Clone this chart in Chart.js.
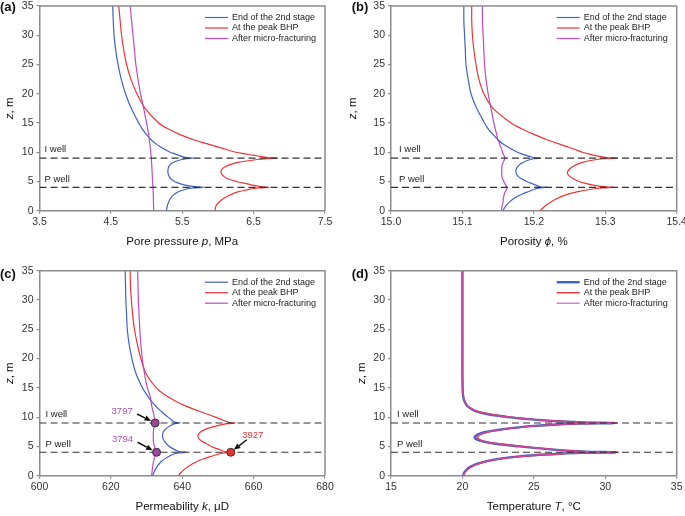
<!DOCTYPE html>
<html><head><meta charset="utf-8">
<script src="https://cdn.jsdelivr.net/npm/chart.js@4.4.1/dist/chart.umd.min.js"></script>
<style>
html,body{margin:0;padding:0;background:#fff;}
#wrap{position:relative;width:685px;height:516px;overflow:hidden;background:#fff;}
canvas{position:absolute;}
</style></head><body>
<div id="wrap">
<canvas id="ca" width="340" height="258" style="left:0;top:0"></canvas>
<canvas id="cb" width="345" height="258" style="left:340px;top:0"></canvas>
<canvas id="cc" width="340" height="258" style="left:0;top:258px"></canvas>
<canvas id="cd" width="345" height="258" style="left:340px;top:258px"></canvas>
</div>
<script>
// ---------------- DATA ----------------
const zGrid = [0,0.5,1,1.5,2,2.5,3,3.25,3.5,3.75,3.9,4,4.1,4.25,4.5,4.75,5,5.5,6,6.5,7,7.5,8,8.25,8.5,8.75,8.9,9,9.1,9.25,9.5,9.75,10,10.5,11,11.5,12,13,14,15,17.5,20,22.5,25,27.5,30,32.5,35];
const seriesNames = ['End of the 2nd stage','At the peak BHP','After micro-fracturing'];

const pressureBlue = [5.28,5.285,5.295,5.31,5.33,5.36,5.41,5.445,5.50,5.58,5.66,5.795,5.68,5.60,5.50,5.44,5.39,5.335,5.31,5.30,5.30,5.31,5.34,5.37,5.42,5.49,5.56,5.655,5.56,5.50,5.445,5.39,5.33,5.25,5.18,5.125,5.075,5.00,4.94,4.89,4.785,4.705,4.645,4.60,4.567,4.545,4.533,4.525];
const pressureRed = [5.96,5.965,5.98,6.02,6.07,6.14,6.23,6.29,6.38,6.48,6.57,6.71,6.62,6.54,6.44,6.35,6.26,6.13,6.07,6.045,6.05,6.10,6.20,6.28,6.40,6.55,6.68,6.83,6.70,6.61,6.49,6.36,6.25,6.11,5.97,5.83,5.69,5.47,5.30,5.17,4.98,4.865,4.78,4.72,4.68,4.65,4.63,4.61];
const pressurePurple = [5.100,5.099,5.098,5.097,5.096,5.095,5.093,5.092,5.091,5.090,5.090,5.089,5.089,5.088,5.087,5.086,5.085,5.082,5.080,5.078,5.076,5.074,5.071,5.070,5.069,5.068,5.067,5.066,5.066,5.065,5.063,5.061,5.060,5.055,5.050,5.045,5.040,5.030,5.015,5.000,4.960,4.915,4.880,4.850,4.830,4.810,4.790,4.770];

const porosityBlue = [15.157,15.159,15.162,15.166,15.171,15.178,15.187,15.192,15.197,15.203,15.208,15.218,15.209,15.205,15.200,15.195,15.190,15.182,15.177,15.175,15.175,15.177,15.181,15.185,15.189,15.195,15.200,15.209,15.200,15.195,15.188,15.182,15.177,15.169,15.162,15.156,15.151,15.143,15.136,15.131,15.120,15.112,15.108,15.105,15.104,15.103,15.102,15.102];
const porosityRed = [15.209,15.213,15.218,15.224,15.231,15.240,15.253,15.262,15.272,15.285,15.296,15.312,15.298,15.289,15.278,15.270,15.263,15.255,15.249,15.247,15.249,15.254,15.262,15.268,15.276,15.288,15.299,15.316,15.302,15.293,15.283,15.275,15.268,15.257,15.245,15.233,15.221,15.201,15.183,15.168,15.143,15.130,15.123,15.119,15.116,15.114,15.113,15.113];
const porosityPurple = [15.155,15.155,15.156,15.157,15.157,15.158,15.159,15.160,15.161,15.162,15.162,15.163,15.162,15.161,15.160,15.159,15.158,15.156,15.155,15.155,15.155,15.155,15.156,15.157,15.158,15.159,15.159,15.160,15.159,15.159,15.158,15.157,15.156,15.155,15.153,15.152,15.150,15.148,15.146,15.144,15.140,15.136,15.133,15.131,15.130,15.129,15.128,15.128];

const permBlue = [631.7,632.0,632.4,632.9,633.5,634.3,635.4,636.1,636.9,637.9,638.9,641.0,639.3,638.6,637.7,637.0,636.4,635.5,634.9,634.5,634.5,634.7,635.4,635.9,636.5,637.3,638.0,639.4,638.2,637.5,637.0,636.6,636.0,635.0,634.1,633.2,632.4,631.0,629.85,628.85,627.0,625.9,625.1,624.6,624.4,624.2,624.1,624.0];
const permRed = [638.9,639.6,640.4,641.5,642.8,644.4,646.6,647.8,649.0,650.5,651.8,653.6,652.1,651.3,650.2,649.1,648.2,646.7,645.2,644.5,644.5,645.2,646.8,648.1,649.6,651.4,652.8,654.8,653.2,652.4,651.4,650.3,649.3,647.1,644.8,642.6,640.6,637.3,634.7,632.7,629.8,628.4,627.4,626.6,626.1,625.75,625.5,625.4];
const permPurple = [631.4,631.5,631.6,631.7,631.8,632.0,632.2,632.3,632.5,632.6,632.7,632.8,632.7,632.6,632.4,632.3,632.2,632.0,631.9,631.9,631.9,631.9,632.0,632.1,632.2,632.3,632.4,632.4,632.4,632.3,632.3,632.2,632.1,632.0,631.8,631.6,631.4,631.2,630.8,630.2,629.4,628.8,628.4,628.1,627.9,627.7,627.6,627.5];

const tempBlue = [20.05,20.12,20.28,20.55,21.0,21.7,22.9,23.8,25.0,26.8,28.3,30.7,28.6,27.3,26.2,25.0,24.0,22.2,21.2,20.85,21.05,21.7,23.0,23.9,25.0,26.6,28.0,30.6,28.4,27.0,25.4,24.2,23.2,21.8,20.95,20.55,20.3,20.1,20.03,20.01,20.0,20.0,20.0,20.0,20.0,20.0,20.0,20.0];
const tempRed = [20.08,20.15,20.33,20.62,21.1,21.85,23.05,24.0,25.2,27.0,28.5,30.9,28.8,27.5,26.4,25.2,24.2,22.4,21.4,21.05,21.25,21.9,23.2,24.1,25.2,26.8,28.2,30.8,28.6,27.2,25.6,24.4,23.4,21.95,21.05,20.6,20.33,20.12,20.04,20.02,20.0,20.0,20.0,20.0,20.0,20.0,20.0,20.0];
const tempPurple = [20.06,20.13,20.3,20.58,21.05,21.75,22.95,23.9,25.1,26.9,28.4,30.8,28.7,27.4,26.3,25.1,24.1,22.3,21.3,20.95,21.15,21.8,23.1,24.0,25.1,26.7,28.1,30.7,28.5,27.1,25.5,24.3,23.3,21.85,21.0,20.58,20.32,20.11,20.03,20.01,20.0,20.0,20.0,20.0,20.0,20.0,20.0,20.0];

const pTicks = [3.5,4.5,5.5,6.5,7.5];
const phiTicks = [15.0,15.1,15.2,15.3,15.4];
const kTicks = [600,620,640,660,680];
const tTicks = [15,20,25,30,35];
const zTicks = [0,5,10,15,20,25,30,35];

const wellDepths = [9,4];
const wellNames = ['I well','P well'];

const kMarkPurpleValues = [632.8,632.4];
const kMarkPurpleDepths = [4,9];
const kMarkPurpleLabels = ['3794','3797'];
const kMarkRedValues = [653.6];
const kMarkRedDepths = [4];
const kMarkRedLabels = ['3927'];

// ---------------- STYLE ----------------
const FONT = '"Liberation Sans", Arial, Helvetica, sans-serif';
const COLORS = ['#3e63c3','#ee3434','#bf4bbf'];
const AXIS = '#8c8c8c';

function pts(xs){ return zGrid.map((z,i)=>({x:xs[i], y:z})); }
function mpts(vals, depths){ return depths.map((d,i)=>({x:vals[i], y:d})).sort((a,b)=>a.y-b.y); }

function drawSegs(ctx, segs, size, cx, cy){
  let total = 0;
  segs.forEach(s=>{ ctx.font = (s[1]?'italic ':'') + size + 'px ' + FONT; s.w = ctx.measureText(s[0]).width; total += s.w; });
  let x = cx - total/2;
  ctx.textAlign = 'left'; ctx.textBaseline = 'middle';
  segs.forEach(s=>{ ctx.font = (s[1]?'italic ':'') + size + 'px ' + FONT; ctx.fillText(s[0], x, cy); x += s.w; });
}

function drawArrow(ctx, x1, y1, x2, y2){
  const ang = Math.atan2(y2-y1, x2-x1), L = 6.5, W = 2.8;
  const bx = x2 - L*Math.cos(ang), by = y2 - L*Math.sin(ang);
  ctx.strokeStyle = '#111'; ctx.fillStyle = '#111'; ctx.lineWidth = 1.5;
  ctx.beginPath(); ctx.moveTo(x1,y1); ctx.lineTo(bx,by); ctx.stroke();
  ctx.beginPath(); ctx.moveTo(x2,y2);
  ctx.lineTo(bx + W*Math.sin(ang), by - W*Math.cos(ang));
  ctx.lineTo(bx - W*Math.sin(ang), by + W*Math.cos(ang));
  ctx.closePath(); ctx.fill();
}

const decor = {
  id: 'decor',
  afterDraw(chart, args, o){
    const ctx = chart.ctx, a = chart.chartArea;
    const xs = chart.scales.x, ys = chart.scales.y;
    ctx.save();
    ctx.strokeStyle = AXIS; ctx.lineWidth = 1.5;
    ctx.beginPath(); ctx.moveTo(a.left, a.top); ctx.lineTo(a.right, a.top); ctx.lineTo(a.right, a.bottom); ctx.stroke();
    ctx.fillStyle = '#222'; ctx.font = '9.5px ' + FONT; ctx.textAlign = 'left'; ctx.textBaseline = 'middle';
    wellNames.forEach((n,i)=>{ ctx.fillText(n, a.left + o.wellDx, ys.getPixelForValue(o.wellLabelZ[i])); });
    const ds = chart.data.datasets.filter(d=>d.isSeries);
    ds.forEach((d,i)=>{
      const y = a.top + 11.5 + i*10.5;
      ctx.strokeStyle = d.borderColor; ctx.lineWidth = d.borderWidth;
      ctx.beginPath(); ctx.moveTo(a.right - 120, y); ctx.lineTo(a.right - 97, y); ctx.stroke();
      ctx.fillStyle = '#222'; ctx.font = '9px ' + FONT; ctx.textAlign='left'; ctx.textBaseline='middle';
      ctx.fillText(d.label, a.right - 93, y);
    });
    ctx.fillStyle = '#111';
    drawSegs(ctx, o.xTitle, 11.5, (a.left + a.right)/2, a.bottom + 31);
    ctx.save();
    ctx.translate(a.left - o.yTitleDx, (a.top + a.bottom)/2);
    ctx.rotate(-Math.PI/2);
    drawSegs(ctx, [['z',true],[', m',false]], 11.5, 0, 0);
    ctx.restore();
    ctx.font = 'bold 13px ' + FONT; ctx.textAlign='left'; ctx.textBaseline='middle'; ctx.fillStyle='#111';
    ctx.fillText(o.letter, o.letterX, o.letterY);
    (o.notes||[]).forEach(n=>{
      const px = xs.getPixelForValue(n.x), py = ys.getPixelForValue(n.z);
      ctx.fillStyle = n.color; ctx.font = '9.5px ' + FONT; ctx.textAlign='center'; ctx.textBaseline='middle';
      ctx.fillText(n.text, px + n.lx, py + n.ly);
      drawArrow(ctx, px + n.ax, py + n.ay, px + n.ex, py + n.ey);
    });
    ctx.restore();
  }
};

function makeChart(id, P){
  const xmin = P.xTicks[0], xmax = P.xTicks[P.xTicks.length-1];
  const datasets = [];
  P.series.forEach((xs,i)=>datasets.push({
    label: seriesNames[i], isSeries: true, data: pts(xs), borderColor: COLORS[i],
    borderWidth: P.widths[i], pointRadius: 0, tension: 0.3, order: 3 - i, fill: false
  }));
  wellDepths.forEach(d=>datasets.push({
    label: 'well', data: [{x:xmin, y:d},{x:xmax, y:d}], borderColor: '#333', borderWidth: 1.2,
    borderDash: [7,4], pointRadius: 0, tension: 0, order: 0, fill: false
  }));
  (P.markers||[]).forEach(m=>datasets.push({
    label: 'marker', data: m.data, showLine: false, pointRadius: 4, pointBackgroundColor: m.color,
    pointBorderColor: '#333', pointBorderWidth: 1, order: -1
  }));
  return new Chart(document.getElementById(id), {
    type: 'line',
    data: { datasets },
    options: {
      responsive: false, animation: false, indexAxis: 'y', devicePixelRatio: 1,
      layout: { padding: { left: 0, top: P.top, right: P.right, bottom: 0 } },
      plugins: { legend: { display: false }, tooltip: { enabled: false }, decor: P.decor },
      scales: {
        x: {
          type: 'linear', position: 'bottom', min: xmin, max: xmax,
          afterBuildTicks: s => { s.ticks = P.xTicks.map(v=>({value:v})); },
          afterFit: s => { s.height = P.bottomH; s.paddingLeft = 0; s.paddingRight = 0; },
          ticks: { color: '#333', font: { family: FONT, size: 10.5 }, padding: 2, maxRotation: 0, autoSkip: false,
                   callback: v => Number(v).toFixed(P.dec) },
          grid: { drawOnChartArea: false, drawTicks: true, tickLength: 3, color: AXIS, lineWidth: 1.2 },
          border: { display: true, color: AXIS, width: 1.5 }
        },
        y: {
          type: 'linear', position: 'left', min: 0, max: 35,
          afterBuildTicks: s => { s.ticks = zTicks.map(v=>({value:v})); },
          afterFit: s => { s.width = P.left; s.paddingTop = 0; s.paddingBottom = 0; },
          ticks: { color: '#333', font: { family: FONT, size: 10.5 }, padding: 3, autoSkip: false },
          grid: { drawOnChartArea: false, drawTicks: true, tickLength: 3, color: AXIS, lineWidth: 1.2 },
          border: { display: true, color: AXIS, width: 1.5 }
        }
      }
    },
    plugins: [decor]
  });
}

makeChart('ca', {
  xTicks: pTicks, dec: 1, left: 39.5, top: 6, right: 15, bottomH: 47.3,
  series: [pressureBlue, pressureRed, pressurePurple], widths: [1.2,1.2,1.2],
  decor: { xTitle: [['Pore pressure ',false],['p',true],[', MPa',false]], yTitleDx: 29.5,
           letter: '(a)', letterX: 0, letterY: 7.5, wellDx: 5, wellLabelZ: [10.5,5.4] }
});
makeChart('cb', {
  xTicks: phiTicks, dec: 1, left: 51, top: 6, right: 8.3, bottomH: 47.3,
  series: [porosityBlue, porosityRed, porosityPurple], widths: [1.2,1.2,1.2],
  decor: { xTitle: [['Porosity ',false],['\u03D5',true],[', %',false]], yTitleDx: 38.3,
           letter: '(b)', letterX: 11.7, letterY: 7.5, wellDx: 8, wellLabelZ: [10.5,5.4] }
});
makeChart('cc', {
  xTicks: kTicks, dec: 0, left: 39.5, top: 12.7, right: 15, bottomH: 40.3,
  series: [permBlue, permRed, permPurple], widths: [1.2,1.2,1.2],
  markers: [
    { data: mpts(kMarkPurpleValues, kMarkPurpleDepths), color: '#9b479b' },
    { data: mpts(kMarkRedValues, kMarkRedDepths), color: '#e83030' }
  ],
  decor: { xTitle: [['Permeability ',false],['k',true],[', \u03BCD',false]], yTitleDx: 29.5,
           letter: '(c)', letterX: 0, letterY: 16.7, wellDx: 6, wellLabelZ: [10.5,5.4],
           notes: [
             { x: kMarkPurpleValues[1], z: kMarkPurpleDepths[1], text: kMarkPurpleLabels[1], color: '#b050b0', lx: -33, ly: -12, ax: -18, ay: -9, ex: -4, ey: -2 },
             { x: kMarkPurpleValues[0], z: kMarkPurpleDepths[0], text: kMarkPurpleLabels[0], color: '#b050b0', lx: -34, ly: -13, ax: -19, ay: -10, ex: -4, ey: -2 },
             { x: kMarkRedValues[0], z: kMarkRedDepths[0], text: kMarkRedLabels[0], color: '#e83030', lx: 22, ly: -16.5, ax: 16, ay: -12.5, ex: 3, ey: -2.5 }
           ] }
});
makeChart('cd', {
  xTicks: tTicks, dec: 0, left: 51, top: 12.7, right: 8.3, bottomH: 40.3,
  series: [tempBlue, tempRed, tempPurple], widths: [2.4,1.4,1],
  decor: { xTitle: [['Temperature ',false],['T',true],[', \u00B0C',false]], yTitleDx: 29.3,
           letter: '(d)', letterX: 11.7, letterY: 16.7, wellDx: 6, wellLabelZ: [10.5,5.4] }
});
</script>
</body></html>
